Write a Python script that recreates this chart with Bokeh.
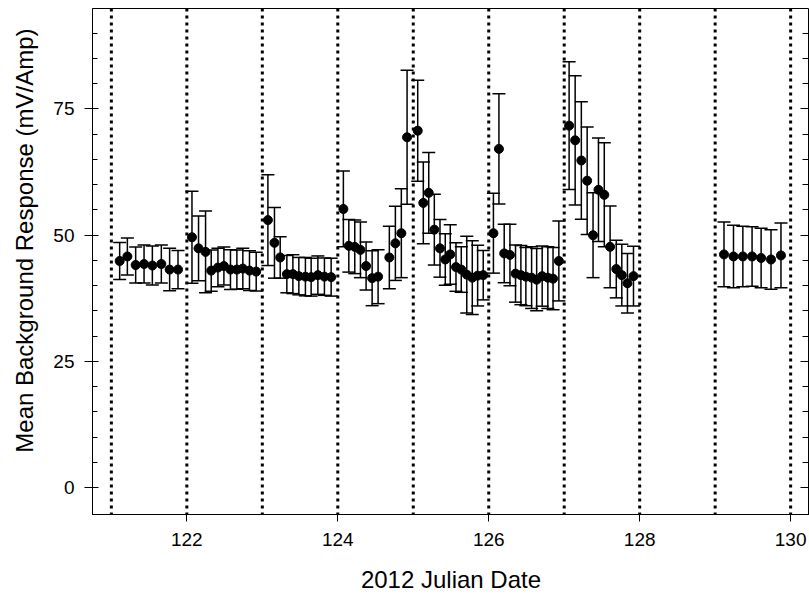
from bokeh.plotting import figure
from bokeh.models import (ColumnDataSource, Whisker, TeeHead, Span, LinearAxis,
                          FixedTicker, Range1d, Title, CustomJSTickFormatter)
from bokeh.embed import file_html
from bokeh.resources import INLINE

# ---- data ----
jd_121 = [121.110, 121.212, 121.322, 121.433, 121.543, 121.662, 121.772, 121.883]
mean_121 = [44.9, 45.8, 44.1, 44.3, 44.0, 44.3, 43.2, 43.2]
err_121 = [3.65, 3.65, 3.55, 3.75, 3.85, 3.75, 4.2, 3.8]

jd_122 = [122.068, 122.155, 122.248, 122.323, 122.412, 122.491, 122.578, 122.663, 122.742, 122.830, 122.919]
mean_122 = [49.6, 47.4, 46.7, 43.0, 43.6, 43.9, 43.2, 43.2, 43.4, 43.0, 42.8]
err_122 = [9.1, 6.4, 8.1, 4.1, 3.8, 3.75, 3.95, 3.9, 4.0, 3.95, 3.85]

jd_123 = [123.074, 123.161, 123.237, 123.325, 123.405, 123.484, 123.571, 123.647, 123.736, 123.823, 123.912]
mean_123 = [53.0, 48.5, 45.6, 42.3, 42.3, 41.9, 41.8, 41.7, 42.1, 41.8, 41.7]
err_123 = [9.0, 7.0, 4.1, 3.7, 3.85, 3.7, 3.8, 3.75, 3.8, 3.7, 3.75]

jd_124 = [124.074, 124.146, 124.225, 124.300, 124.375, 124.455, 124.534, 124.683, 124.763, 124.842, 124.918]
mean_124 = [55.2, 47.9, 47.7, 47.1, 43.9, 41.5, 41.8, 45.6, 48.4, 50.4, 69.4]
err_124 = [7.5, 5.2, 5.3, 5.5, 4.75, 5.45, 5.35, 6.2, 7.35, 8.8, 13.25]

jd_125 = [125.059, 125.133, 125.205, 125.279, 125.354, 125.424, 125.490, 125.566, 125.636, 125.709, 125.782, 125.853, 125.927]
mean_125 = [70.7, 56.4, 58.4, 51.1, 47.4, 45.2, 46.2, 43.7, 43.2, 42.2, 41.6, 42.0, 42.1]
err_125 = [10.0, 8.1, 8.0, 7.0, 5.7, 5.1, 5.9, 4.8, 4.5, 7.6, 7.3, 6.0, 4.9]

jd_126 = [126.062, 126.135, 126.205, 126.281, 126.355, 126.426, 126.492, 126.568, 126.635, 126.708, 126.783, 126.852, 126.929]
mean_126 = [50.4, 67.1, 46.4, 46.1, 42.4, 42.1, 41.8, 41.6, 41.2, 41.9, 41.6, 41.4, 44.9]
err_126 = [7.9, 10.9, 5.8, 6.1, 5.65, 5.85, 5.75, 6.1, 6.15, 5.95, 6.1, 6.15, 7.9]

jd_127 = [127.065, 127.145, 127.227, 127.304, 127.382, 127.454, 127.531, 127.608, 127.690, 127.763, 127.838, 127.918]
mean_127 = [71.7, 68.8, 64.8, 60.8, 50.0, 59.0, 58.0, 47.7, 43.3, 42.1, 40.5, 41.9]
err_127 = [12.65, 12.8, 11.65, 10.65, 8.4, 10.25, 10.3, 8.1, 5.7, 6.1, 5.9, 5.9]

jd_129 = [129.117, 129.243, 129.367, 129.489, 129.609, 129.740, 129.872]
mean_129 = [46.2, 45.8, 45.8, 45.8, 45.5, 45.2, 46.0]
err_129 = [6.4, 6.2, 6.0, 5.9, 5.9, 5.9, 6.4]

day_lines = [121, 122, 123, 124, 125, 126, 127, 128, 129, 130]
x_ticks = [122, 124, 126, 128, 130]
y_ticks = [0, 25, 50, 75]
y_minor_ticks = [0, 5, 10, 15, 20, 25, 30, 35, 40, 45, 50, 55, 60, 65, 70, 75, 80, 85, 90]

x_title = "2012 Julian Date"
y_title = "Mean Background Response (mV/Amp)"

# ---- build table ----
jd = jd_121 + jd_122 + jd_123 + jd_124 + jd_125 + jd_126 + jd_127 + jd_129
mean = mean_121 + mean_122 + mean_123 + mean_124 + mean_125 + mean_126 + mean_127 + mean_129
err = err_121 + err_122 + err_123 + err_124 + err_125 + err_126 + err_127 + err_129
src = ColumnDataSource(dict(
    jd=jd, mean=mean,
    upper=[m + e for m, e in zip(mean, err)],
    lower=[m - e for m, e in zip(mean, err)],
))

FONT = "Liberation Sans"

p = figure(width=809, height=596, output_backend="svg", toolbar_location=None,
           x_range=Range1d(120.75, 130.25), y_range=Range1d(-5.3, 94.9),
           min_border_left=91, min_border_right=0, min_border_top=8,
           min_border_bottom=82)
p.grid.visible = False
p.outline_line_color = "black"
p.outline_line_width = 1
p.background_fill_color = "white"
p.border_fill_color = "white"

# vertical dotted day lines
for d in day_lines:
    s = Span(location=d, dimension="height", line_color="black",
             line_width=3, line_dash="3 4", level="underlay")
    p.add_layout(s)

# error bars
w = Whisker(base="jd", upper="upper", lower="lower", source=src,
            dimension="height", line_color="black", line_width=1.5,
            upper_head=TeeHead(size=13, line_color="black", line_width=1.5),
            lower_head=TeeHead(size=13, line_color="black", line_width=1.5))
p.add_layout(w)

p.scatter("jd", "mean", source=src, size=9, color="black")

# x axis
xa = p.xaxis[0]
xa.ticker = FixedTicker(ticks=x_ticks, minor_ticks=[])
xa.major_tick_out = 7
xa.major_tick_in = 0
xa.minor_tick_out = 0
xa.minor_tick_in = 0
xa.axis_line_color = "black"
xa.major_tick_line_color = "black"
xa.major_label_text_font = FONT
xa.major_label_text_font_size = "19px"
xa.major_label_text_color = "black"
xa.major_label_standoff = 11
xa.axis_label = x_title
xa.axis_label_text_font = FONT
xa.axis_label_text_font_size = "24px"
xa.axis_label_text_font_style = "normal"
xa.axis_label_text_color = "black"
xa.axis_label_standoff = 17

# y axis (ticks and tick labels)
ya = p.yaxis[0]
ya.ticker = FixedTicker(ticks=y_ticks, minor_ticks=y_minor_ticks)
ya.major_tick_out = 8
ya.major_tick_in = 6
ya.minor_tick_out = 0
ya.minor_tick_in = 5
ya.axis_line_color = "black"
ya.major_tick_line_color = "black"
ya.minor_tick_line_color = "black"
ya.major_label_text_font = FONT
ya.major_label_text_font_size = "19px"
ya.major_label_text_color = "black"
ya.major_label_standoff = 10

# y title as a side title, its end placed near the top of the frame
yt = Title(text=y_title, align="right", offset=20, vertical_align="top",
           standoff=21, text_font=FONT, text_font_size="24px",
           text_font_style="normal", text_color="black")
p.add_layout(yt, "left")

# right axis: ticks only, pointing inward
ra = LinearAxis(ticker=FixedTicker(ticks=y_ticks, minor_ticks=y_minor_ticks),
                formatter=CustomJSTickFormatter(code="return ''"))
ra.major_tick_out = 0
ra.major_tick_in = 9
ra.minor_tick_out = 0
ra.minor_tick_in = 7
ra.major_label_standoff = 0
ra.axis_line_color = "black"
ra.major_tick_line_color = "black"
ra.minor_tick_line_color = "black"
p.add_layout(ra, "right")

open("out.html", "w").write(file_html(p, INLINE))
